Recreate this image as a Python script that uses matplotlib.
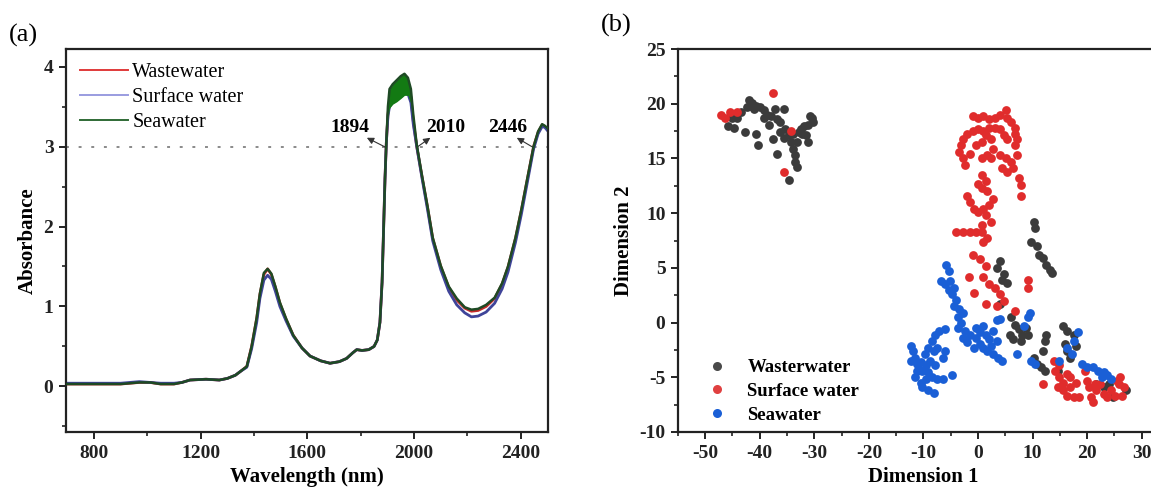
import matplotlib
matplotlib.use("Agg")
import matplotlib.pyplot as plt
from matplotlib.ticker import MultipleLocator
from matplotlib.lines import Line2D

plt.rcParams["font.family"] = "serif"
plt.rcParams["font.serif"] = ["Liberation Serif", "DejaVu Serif"]
plt.rcParams["axes.unicode_minus"] = False

# ---- (a) NIR spectra ----
wavelength = [
    700, 800, 900, 970, 1010, 1050, 1100, 1130, 1160, 1220,
    1270, 1300, 1330, 1350, 1373, 1391, 1410, 1422, 1437, 1451,
    1465, 1480, 1497, 1520, 1547, 1580, 1610, 1650, 1685, 1720,
    1747, 1770, 1785, 1805, 1830, 1850, 1862, 1872, 1880, 1886,
    1891, 1896, 1902, 1908, 1920, 1935, 1950, 1964, 1977, 1988,
    1997, 2010, 2030, 2050, 2070, 2100, 2130, 2160, 2190, 2215,
    2240, 2270, 2302, 2330, 2352, 2380, 2402, 2425, 2448, 2465,
    2480, 2490, 2500]

abs_wastewater = [
    0.03, 0.03, 0.03, 0.05, 0.05, 0.03, 0.03, 0.05, 0.08, 0.09,
    0.08, 0.10, 0.14, 0.19, 0.25, 0.50, 0.85, 1.15, 1.40, 1.47,
    1.40, 1.24, 1.04, 0.84, 0.64, 0.48, 0.38, 0.32, 0.29, 0.31,
    0.35, 0.42, 0.46, 0.45, 0.46, 0.50, 0.58, 0.80, 1.30, 2.00,
    2.60, 3.05, 3.40, 3.55, 3.60, 3.65, 3.70, 3.74, 3.74, 3.62,
    3.32, 3.00, 2.62, 2.25, 1.85, 1.50, 1.24, 1.08, 0.98, 0.94,
    0.95, 1.00, 1.10, 1.28, 1.49, 1.85, 2.20, 2.60, 3.00, 3.18,
    3.27, 3.25, 3.22]

abs_surface = [
    0.04, 0.04, 0.04, 0.06, 0.05, 0.04, 0.04, 0.05, 0.08, 0.09,
    0.08, 0.10, 0.14, 0.19, 0.24, 0.47, 0.80, 1.10, 1.33, 1.39,
    1.34, 1.19, 1.00, 0.82, 0.63, 0.48, 0.38, 0.32, 0.29, 0.31,
    0.35, 0.42, 0.46, 0.45, 0.46, 0.50, 0.58, 0.80, 1.30, 2.00,
    2.60, 3.05, 3.38, 3.50, 3.55, 3.58, 3.62, 3.66, 3.66, 3.55,
    3.28, 3.00, 2.60, 2.22, 1.82, 1.46, 1.19, 1.02, 0.92, 0.87,
    0.88, 0.93, 1.04, 1.22, 1.43, 1.80, 2.15, 2.56, 2.97, 3.16,
    3.25, 3.24, 3.20]

abs_seawater = [
    0.03, 0.03, 0.03, 0.05, 0.05, 0.03, 0.03, 0.05, 0.08, 0.09,
    0.08, 0.10, 0.14, 0.19, 0.25, 0.50, 0.86, 1.16, 1.42, 1.47,
    1.41, 1.25, 1.05, 0.85, 0.64, 0.48, 0.38, 0.32, 0.29, 0.31,
    0.35, 0.42, 0.46, 0.45, 0.46, 0.50, 0.58, 0.80, 1.30, 2.00,
    2.60, 3.05, 3.50, 3.72, 3.78, 3.83, 3.88, 3.91, 3.86, 3.72,
    3.40, 3.02, 2.63, 2.26, 1.86, 1.51, 1.25, 1.10, 0.99, 0.96,
    0.97, 1.02, 1.11, 1.29, 1.50, 1.86, 2.21, 2.61, 3.00, 3.19,
    3.28, 3.26, 3.23]

# spread of the seawater spectra across the 1940 nm band
band_wl = [1902, 1908, 1920, 1935, 1950, 1964, 1977, 1988, 1997]
band_low = [3.36, 3.48, 3.53, 3.56, 3.60, 3.64, 3.64, 3.53, 3.27]
band_high = [3.50, 3.72, 3.78, 3.83, 3.88, 3.91, 3.86, 3.72, 3.40]

marks = ["1894", "2010", "2446"]
mark_wl = [1894, 2010, 2446]
mark_text_wl = [1760, 2118, 2352]
mark_head_wl = [1823, 2061, 2385]

# ---- (b) embedding ----
ww_x = [-45.8, -45.1, -42.7, -40.7, -40.3, -42.0, -41.4, -40.7, -40.0, -39.3,
        -38.6, -38.0, -37.3, -36.9, -36.3, -35.6, -35.3, -34.6, -34.2, -33.9,
        -33.6, -33.6, -33.2, -34.6, -36.9, -37.6, -32.5, -31.9, -31.2, -30.5,
        -30.8, -30.2, -31.5, -31.2, -32.2, -32.9, -43.4, -44.1, -44.7, -42.4,
        -39.3, -38.3, -36.3, -35.6, -41.7, -41.0, -33.2, -33.9,
        10.2, 10.5, 9.8, 10.8, 11.2, 11.9, 12.5, 13.2, 13.6, 4.1,
        3.4, 4.7, 5.4, 4.4, 4.1, 6.1, 6.8, 7.5, 5.8, 8.1,
        8.8, 6.4, 7.8, 9.2, 10.2, 10.8, 11.5, 12.2, 11.9, 12.2,
        12.5, 15.6, 16.3, 15.9, 16.3, 18.0, 17.6, 16.9, 21.7, 23.1,
        24.1, 24.7, 27.1, 14.6]
ww_y = [18.0, 18.7, 17.4, 17.2, 16.2, 20.3, 20.1, 19.8, 19.7, 19.4,
        19.0, 18.9, 19.5, 18.6, 18.3, 19.5, 17.7, 17.1, 16.5, 15.9,
        15.3, 14.7, 14.2, 13.0, 15.4, 16.8, 17.7, 18.0, 18.1, 18.7,
        18.9, 18.3, 17.1, 16.5, 17.2, 17.4, 19.2, 18.7, 17.8, 19.7,
        18.7, 18.1, 17.4, 16.9, 19.8, 19.5, 16.5, 17.2,
        9.2, 8.6, 7.4, 7.0, 6.2, 5.9, 5.3, 4.8, 4.5, 5.6,
        5.0, 4.4, 3.6, 3.9, 1.7, 0.5, -0.2, -0.6, -1.1, -1.1,
        -0.5, -1.5, -1.7, -1.1, -3.2, -3.8, -4.1, -4.4, -2.6, -1.7,
        -1.1, -0.3, -0.8, -2.0, -2.6, -2.1, -1.1, -3.2, -5.6, -5.9,
        -5.6, -6.8, -6.2, -4.4]

sw_x = [-47.1, -46.4, -45.4, -44.1, -37.6, -34.2, -35.6,
        -1.0, 0.0, 1.0, 2.0, 3.1, 4.1, 5.1, 5.4, 6.1, 6.8,
        6.8, 7.1, 6.8, 5.4, 4.7, 4.1, 3.1, 2.0, 1.0, 0.0,
        -1.0, -2.0, -2.7, -3.1, -3.4, -2.7, -2.4, -1.4, -0.3, 0.7,
        1.4, 2.4, 2.7, 1.7, 0.7, 2.4, 4.1, 5.1, 6.1, 6.4,
        5.4, 4.4, 7.1, 7.5, 7.8, 7.8, 0.7, 1.4, 0.7, 0.0,
        1.7, 2.7, 2.0, 1.0, 0.0, -0.7, 1.4, 2.4, 0.7, -0.3,
        0.7, -1.4, -2.7, -4.1, 1.0, 1.7, -2.0, -1.4,
        -1.0, 0.3, 1.4, -1.7, 1.0, 2.0, 3.1, 4.1, 4.7, -0.7,
        1.4, 6.8, 9.2, 9.2, 3.4,
        11.9, 13.9, 14.2, 14.9, 14.9, 15.6, 14.6, 15.6, 16.3, 16.9,
        16.9, 17.6, 18.6, 19.7, 20.0, 20.3, 20.7, 21.0, 21.7, 22.4,
        23.1, 23.7, 24.4, 25.1, 25.8, 26.1, 26.8, 26.4, 25.4, 21.4,
        16.3, 18.0]
sw_y = [19.0, 18.7, 19.2, 19.2, 21.0, 17.5, 13.8,
        18.9, 18.7, 18.9, 18.6, 18.7, 19.0, 19.4, 18.7, 18.3, 17.8,
        17.2, 16.8, 16.2, 16.8, 17.1, 17.7, 17.8, 17.8, 17.5, 17.7,
        17.5, 17.2, 16.8, 16.2, 15.6, 15.0, 14.4, 15.4, 16.2, 16.5,
        17.1, 16.8, 15.9, 15.3, 15.0, 15.0, 15.3, 15.0, 14.7, 14.1,
        13.8, 14.1, 15.3, 13.2, 12.6, 11.6, 13.5, 12.9, 12.3, 12.7,
        12.0, 11.3, 10.7, 10.4, 10.1, 10.4, 9.8, 9.2, 8.9, 8.3,
        8.3, 8.3, 8.3, 8.3, 7.4, 7.7, 11.6, 11.0,
        6.2, 5.8, 5.2, 4.2, 4.2, 3.5, 3.2, 2.6, 2.0, 2.7,
        1.7, 1.1, 3.9, 3.2, 1.5,
        -5.6, -3.5, -4.4, -3.9, -5.0, -5.5, -5.9, -6.2, -6.7, -5.9,
        -5.0, -6.8, -6.8, -4.4, -5.3, -5.9, -6.8, -7.3, -6.2, -5.6,
        -6.5, -6.8, -6.2, -6.7, -5.6, -5.0, -5.9, -6.7, -5.3, -5.6,
        -4.7, -5.5]

sea_x = [-12.2, -11.9, -11.5, -11.2, -10.8, -10.5, -9.8, -9.2, -8.5, -7.8,
         -7.1, -6.1, -10.2, -9.5, -8.8, -8.1, -7.5, -11.5, -10.5, -9.5,
         -8.5, -7.5, -6.4, -4.7, -10.2, -9.2, -8.1, -11.2, -12.2, -9.2,
         -7.8, -6.4, -6.1,
         -5.8, -5.4, -6.8, -6.1, -5.4, -4.7, -4.1, -4.4, -3.4, -2.7,
         -3.7, -3.1, -3.7, -2.4, -2.7, -2.0, -5.1, -4.4,
         -0.3, 0.3, 1.0, 1.4, 2.0, 2.7, 3.4, 4.1, -0.3, 0.3,
         1.0, 1.7, 2.7, 3.7, 4.4, 2.4, 3.4, -0.7, 7.1, 8.5,
         9.2, 9.5, 9.8, 10.5, -1.4,
         18.3, 17.6, 16.3, 17.3, 19.0, 20.0, 21.0, 22.0, 23.1, 23.7,
         22.7, 24.4, 14.9]
sea_y = [-2.1, -2.6, -3.2, -3.8, -4.2, -3.6, -2.9, -2.3, -1.7, -1.1,
         -0.8, -0.6, -4.4, -3.9, -3.5, -2.6, -2.3, -5.0, -5.5, -5.2,
         -5.0, -5.2, -5.2, -4.8, -5.9, -6.2, -6.4, -4.4, -3.5, -4.5,
         -3.9, -3.2, -2.6,
         5.3, 4.7, 3.8, 3.5, 3.0, 2.6, 2.1, 1.5, 1.2, 0.9,
         0.5, 0.0, -0.5, -0.8, -1.4, -1.8, 3.8, 3.2,
         -0.5, -0.9, -0.3, -1.1, -1.5, -0.8, 0.2, 0.3, -1.4, -2.0,
         -2.3, -2.6, -2.9, -3.2, -3.5, -2.1, -1.7, -2.3, -2.9, -0.3,
         0.5, 0.9, -3.5, -3.8, -1.1,
         -0.9, -1.7, -2.3, -2.9, -3.8, -4.1, -4.1, -4.4, -4.5, -4.8,
         -5.0, -5.2, -3.5]

fig = plt.figure(figsize=(11.51, 5.0), dpi=100)
ax1 = fig.add_axes([0.0573, 0.136, 0.4188, 0.766])
ax2 = fig.add_axes([0.589, 0.136, 0.4266, 0.766])

# ── (a) ─────────────────────────────────────────────────────────────
ax1.axhline(3, color="#8a8a8a", lw=1.4, ls=(0, (1.5, 5)), zorder=1)
ax1.plot(wavelength, abs_wastewater, color="#c62a2a", lw=2.0, zorder=2)
ax1.plot(wavelength, abs_surface, color="#3f4499", lw=2.0, zorder=2)
ax1.fill_between(band_wl, band_low, band_high, color="#137a13", lw=0, zorder=3)
ax1.plot(wavelength, abs_seawater, color="#1e4a24", lw=1.8, zorder=4)

for w, tw, hw, txt in zip(mark_wl, mark_text_wl, mark_head_wl, marks):
    ax1.annotate("", xy=(hw, 3.11), xytext=(w, 2.99),
                 arrowprops=dict(arrowstyle="-|>", color="#333333", lw=0.8,
                                 mutation_scale=10, shrinkA=0, shrinkB=0))
    ax1.text(tw, 3.24, txt, ha="center", va="center",
             fontweight="bold", fontsize=14)

ax1.set_xlim(695, 2502)
ax1.set_ylim(-0.57, 4.22)
ax1.xaxis.set_major_locator(MultipleLocator(400))
ax1.xaxis.set_minor_locator(MultipleLocator(200))
ax1.yaxis.set_major_locator(MultipleLocator(1))
ax1.yaxis.set_minor_locator(MultipleLocator(0.5))
ax1.set_xlabel("Wavelength (nm)", fontweight="bold", fontsize=15)
ax1.set_ylabel("Absorbance", fontweight="bold", fontsize=15)

handles = [Line2D([], [], color="#e03a3a", lw=1.4),
           Line2D([], [], color="#9a9ce0", lw=1.4),
           Line2D([], [], color="#2f6a35", lw=1.4)]
ax1.legend(handles, ["Wastewater", "Surface water", "Seawater"],
           loc="upper left", frameon=False, fontsize=14.5, handlelength=2.4,
           handletextpad=0.2, labelspacing=0.3, borderaxespad=0.1,
           borderpad=0.6, bbox_to_anchor=(0.0, 1.0))

# ── (b) ─────────────────────────────────────────────────────────────
ax2.scatter(ww_x, ww_y, s=40, color="#3b3b3b", lw=0, zorder=3)
ax2.scatter(sw_x, sw_y, s=40, color="#e02c2c", lw=0, zorder=3)
ax2.scatter(sea_x, sea_y, s=40, color="#1a5fd6", lw=0, zorder=3)

ax2.set_xlim(-55, 35)
ax2.set_ylim(-10, 25)
ax2.xaxis.set_major_locator(MultipleLocator(10))
ax2.xaxis.set_minor_locator(MultipleLocator(5))
ax2.yaxis.set_major_locator(MultipleLocator(5))
ax2.yaxis.set_minor_locator(MultipleLocator(2.5))
ax2.set_xlabel("Dimension 1", fontweight="bold", fontsize=15)
ax2.set_ylabel("Dimension 2", fontweight="bold", fontsize=15)

mh = [Line2D([], [], ls="", marker="o", ms=6.5, mew=0, color=c)
      for c in ["#4a4a4a", "#e04040", "#1a5fd6"]]
leg = ax2.legend(mh, ["Wasterwater", "Surface water", "Seawater"],
                 loc="lower left", frameon=False, fontsize=13.5,
                 handletextpad=0.6, labelspacing=0.35, borderaxespad=0.15,
                 borderpad=0.3, bbox_to_anchor=(0.025, 0.0))
for t in leg.get_texts():
    t.set_fontweight("bold")

for ax in (ax1, ax2):
    for sp in ax.spines.values():
        sp.set_linewidth(1.6)
        sp.set_color("#222222")
    ax.tick_params(which="major", direction="out", length=5, width=1.4,
                   labelsize=14, pad=4, colors="#222222")
    ax.tick_params(which="minor", direction="out", length=3, width=1.2,
                   colors="#222222")
    for lb in ax.get_xticklabels() + ax.get_yticklabels():
        lb.set_fontweight("bold")

fig.text(0.008, 0.93, "(a)", fontsize=19, va="center", ha="left")
fig.text(0.522, 0.95, "(b)", fontsize=19, va="center", ha="left")

fig.savefig("out.png", dpi=100)
